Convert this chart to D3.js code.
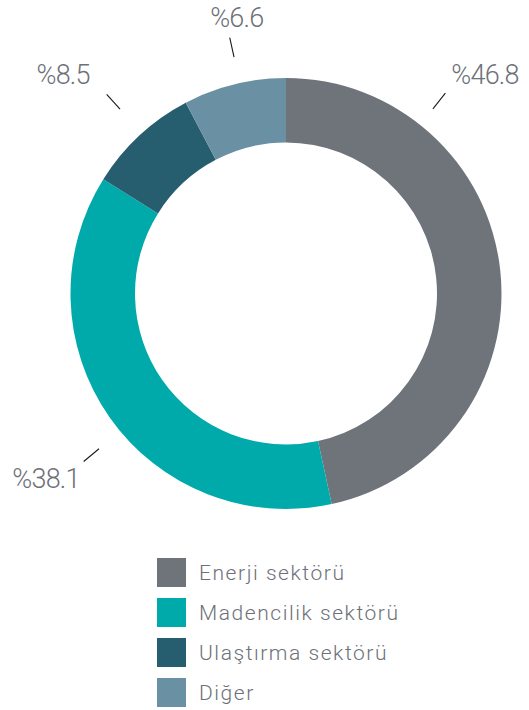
<!DOCTYPE html>
<html><head><meta charset="utf-8">
<script src="https://cdn.jsdelivr.net/npm/d3@7"></script>
<style>
html,body{margin:0;padding:0;background:#fff;}
svg{display:block;font-family:Roboto,"Noto Sans",sans-serif;}
</style></head>
<body>
<svg id="chart" width="529" height="710"></svg>
<script>
// ---- data ----
const categories = ["Enerji sektörü", "Madencilik sektörü", "Ulaştırma sektörü", "Diğer"];
// arc sizes as drawn in the picture (degrees of the ring converted to %)
const values = [46.6, 37.3, 8.4, 7.7];
const valueLabels = ["%46.8", "%38.1", "%8.5", "%6.6"];
const colors = ["#6f747b", "#00aaaa", "#265d6f", "#6a91a3"];

// ---- layout ----
const W = 529, H = 710;
const cx = 286, cy = 293.5, rOuter = 215.5, rInner = 151;
const labelAngleDeg = [38.5, 230.3, 318, 347.6];
const labelR0 = [236, 243, 248, 242];
const labelLen = 20;
const labelAnchor = ["start", "end", "end", "middle"];
const labelOffset = [[6, -9], [-4, 27], [-17, -10], [7, -11]];
const textColor = "#6d7178";

const svg = d3.select("#chart");
const g = svg.append("g").attr("transform", `translate(${cx},${cy})`);

const pie = d3.pie().sort(null).value(d => d)(values);
const arc = d3.arc().innerRadius(rInner).outerRadius(rOuter);

g.selectAll("path.slice").data(pie).join("path")
  .attr("class", "slice")
  .attr("d", arc)
  .attr("fill", (d, i) => colors[i]);

labelAngleDeg.forEach((deg, i) => {
  const a = deg * Math.PI / 180;
  const p = r => [Math.sin(a) * r, -Math.cos(a) * r];
  const [x1, y1] = p(labelR0[i]), [x2, y2] = p(labelR0[i] + labelLen);
  g.append("line").attr("x1", x1).attr("y1", y1).attr("x2", x2).attr("y2", y2)
    .attr("stroke", "#1a1a1a").attr("stroke-width", 1.1);
  g.append("text")
    .attr("x", x2 + labelOffset[i][0]).attr("y", y2 + labelOffset[i][1])
    .attr("text-anchor", labelAnchor[i])
    .attr("font-size", 27).attr("font-weight", 300)
    .attr("letter-spacing", -0.8)
    .attr("fill", textColor)
    .text(valueLabels[i]);
});

// legend
const ly = d3.scaleBand().domain(categories).range([558, 718]).paddingInner(0);
const leg = svg.append("g");
const item = leg.selectAll("g").data(categories).join("g")
  .attr("transform", d => `translate(157,${ly(d)})`);
item.append("rect").attr("width", 29).attr("height", 29)
  .attr("fill", (d, i) => colors[i]);
item.append("text").attr("x", 42).attr("y", 22)
  .attr("font-size", 21).attr("font-weight", 300)
  .attr("letter-spacing", 1.55)
  .attr("fill", textColor).text(d => d);
</script>
</body></html>
